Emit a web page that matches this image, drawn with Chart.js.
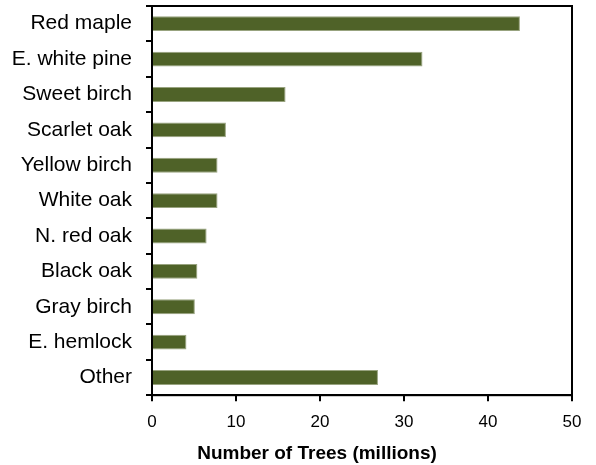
<!DOCTYPE html>
<html>
<head>
<meta charset="utf-8">
<script src="https://cdn.jsdelivr.net/npm/chart.js@4"></script>
<style>
html,body{margin:0;padding:0;background:#fff;}
#wrap{width:596px;height:465px;}
</style>
</head>
<body>
<div id="wrap"><canvas id="c" width="596" height="465"></canvas></div>
<script>
const categories = ["Red maple","E. white pine","Sweet birch","Scarlet oak","Yellow birch","White oak","N. red oak","Black oak","Gray birch","E. hemlock","Other"];
const treeCounts = [43.8, 32.2, 15.9, 8.8, 7.8, 7.8, 6.5, 5.4, 5.1, 4.1, 26.9];
const xTicks = [0, 10, 20, 30, 40, 50];
const xTitle = "Number of Trees (millions)";

const frame = {
  id: 'frame',
  afterLayout(chart) {
    const t = chart.titleBlock;
    if (t) { t.left = 62; t.right = 572; t.width = 510; }
  },
  afterDatasetsDraw(chart) {
    const a = chart.chartArea, ctx = chart.ctx;
    ctx.save();
    ctx.strokeStyle = '#000';
    ctx.lineWidth = 2;
    ctx.strokeRect(a.left, a.top, a.right - a.left, a.bottom - a.top);
    ctx.restore();
  }
};

new Chart(document.getElementById('c'), {
  type: 'bar',
  data: {
    labels: categories,
    datasets: [{
      data: treeCounts,
      backgroundColor: '#4f6228',
      borderColor: '#98a37f',
      borderWidth: 1,
      barPercentage: 0.42,
      categoryPercentage: 1
    }]
  },
  options: {
    indexAxis: 'y',
    responsive: false,
    animation: false,
    layout: { padding: { left: 0, right: 24, top: 6, bottom: 0 } },
    plugins: {
      legend: { display: false },
      tooltip: { enabled: false },
      title: {
        display: true,
        position: 'bottom',
        text: xTitle,
        color: '#000',
        font: { family: 'Liberation Sans', size: 19, weight: 'bold', lineHeight: 1.2 },
        padding: { top: 0, bottom: 0 }
      }
    },
    scales: {
      x: {
        min: 0, max: 50,
        afterBuildTicks(scale) { scale.ticks = xTicks.map(v => ({ value: v })); },
        afterFit(scale) { scale.height = 47; scale.paddingLeft = 0; scale.paddingRight = 0; },
        grid: { display: true, drawOnChartArea: false, drawTicks: true, tickLength: 6, color: '#000', lineWidth: 2 },
        border: { display: true, color: '#000', width: 2 },
        ticks: { color: '#000', padding: 11, font: { family: 'Liberation Sans', size: 17 } }
      },
      y: {
        afterFit(scale) { scale.width = 152; scale.paddingTop = 0; scale.paddingBottom = 0; },
        grid: { display: true, offset: true, drawOnChartArea: false, drawTicks: true, tickLength: 6, color: '#000', lineWidth: 2 },
        border: { display: true, color: '#000', width: 2 },
        ticks: { color: '#000', padding: 14, font: { family: 'Liberation Sans', size: 21 } }
      }
    }
  },
  plugins: [frame]
});
</script>
</body>
</html>
